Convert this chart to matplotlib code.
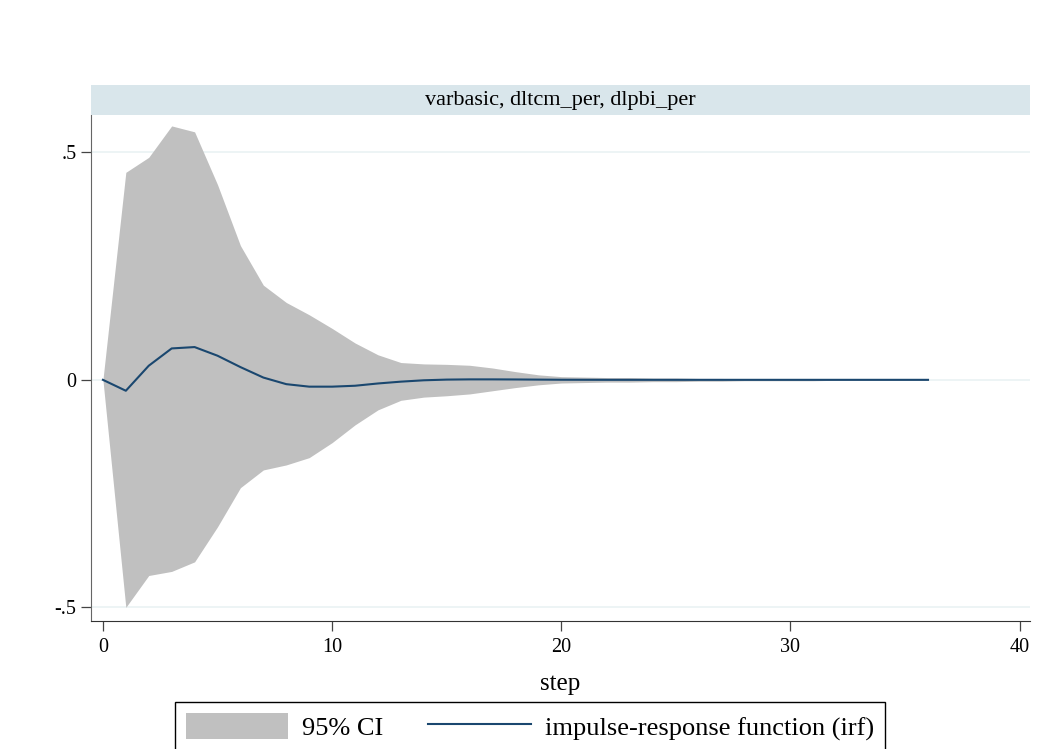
import matplotlib.pyplot as plt
import numpy as np

plt.rcParams["font.family"] = ["Liberation Serif", "DejaVu Serif"]

# impulse response, dltcm_per -> dlpbi_per
step = list(range(37))
irf = [0.0, -0.024, 0.031, 0.069, 0.072, 0.053, 0.028, 0.005, -0.0095, -0.015,
       -0.015, -0.013, -0.008, -0.004, -0.001, 0.0005, 0.001, 0.001, 0.0008, 0.0005,
       0.0002, 0.0001, 0.0, 0.0, 0.0, 0.0, 0.0, 0.0, 0.0, 0.0,
       0.0, 0.0, 0.0, 0.0, 0.0, 0.0, 0.0]
ci_upper = [0.0, 0.456, 0.489, 0.558, 0.545, 0.429, 0.295, 0.208, 0.170, 0.143,
            0.113, 0.081, 0.055, 0.038, 0.035, 0.034, 0.032, 0.026, 0.018, 0.011,
            0.007, 0.006, 0.005, 0.005, 0.004, 0.004, 0.003, 0.003, 0.002, 0.002,
            0.002, 0.002, 0.001, 0.001, 0.001, 0.001, 0.001]
ci_lower = [0.0, -0.500, -0.430, -0.421, -0.400, -0.323, -0.237, -0.198, -0.187, -0.171,
            -0.138, -0.099, -0.066, -0.045, -0.038, -0.035, -0.031, -0.024, -0.017, -0.011,
            -0.007, -0.006, -0.005, -0.005, -0.004, -0.004, -0.003, -0.003, -0.002, -0.002,
            -0.002, -0.002, -0.001, -0.001, -0.001, -0.001, -0.001]
panel_title = "varbasic, dltcm_per, dlpbi_per"
xticks = [0, 10, 20, 30, 40]
yticks = [-0.5, 0, 0.5]
yticklabels = ["-.5", "0", ".5"]

W, H = 1051, 749
fig = plt.figure(figsize=(W / 100, H / 100), dpi=100)


def box(x0, y0, x1, y1):
    # pixel box (top-left origin) -> figure fraction rect
    return [x0 / W, 1 - y1 / H, (x1 - x0) / W, (y1 - y0) / H]


ax = fig.add_axes(box(91, 115, 1030, 621))
strip = fig.add_axes(box(91, 85, 1030, 115))

band = ax.fill_between(step, ci_lower, ci_upper, color="#c0c0c0", lw=0, label="95% CI")
line, = ax.plot(step, irf, color="#1a476f", lw=1.5, label="impulse-response function (irf)")

ax.set_xlim(-0.52, 40.45)
ax.set_ylim(-0.53, 0.582)
ax.set_xticks(xticks)
ax.set_yticks(yticks)
ax.set_yticklabels(yticklabels)
ax.grid(axis="y", color="#eaf2f3", lw=1.2)
ax.set_axisbelow(True)
for s in ["top", "right"]:
    ax.spines[s].set_visible(False)
ax.spines["left"].set_color("#666666")
ax.spines["bottom"].set_color("#333333")
ax.tick_params(axis="both", labelsize=14.5, length=7, width=0.9, color="#444444")
ax.tick_params(axis="x", pad=5)
ax.set_xlabel("step", fontsize=18, labelpad=12)

strip.set_facecolor("#d9e6eb")
strip.set_xticks([])
strip.set_yticks([])
for s in strip.spines.values():
    s.set_visible(False)
strip.text(0.5, 0.5, panel_title, ha="center", va="center", fontsize=16,
           transform=strip.transAxes)

leg = fig.legend(handles=[band, line], loc="upper center",
                 bbox_to_anchor=(530 / W, 1 - 702 / H), ncol=2, fontsize=19,
                 frameon=True, fancybox=False, edgecolor="black", framealpha=1,
                 handlelength=3.87, handleheight=1.15, handletextpad=0.53,
                 columnspacing=1.7, borderpad=0.42, borderaxespad=0)
leg.get_frame().set_linewidth(1.0)

fig.savefig("out.png", dpi=100)
